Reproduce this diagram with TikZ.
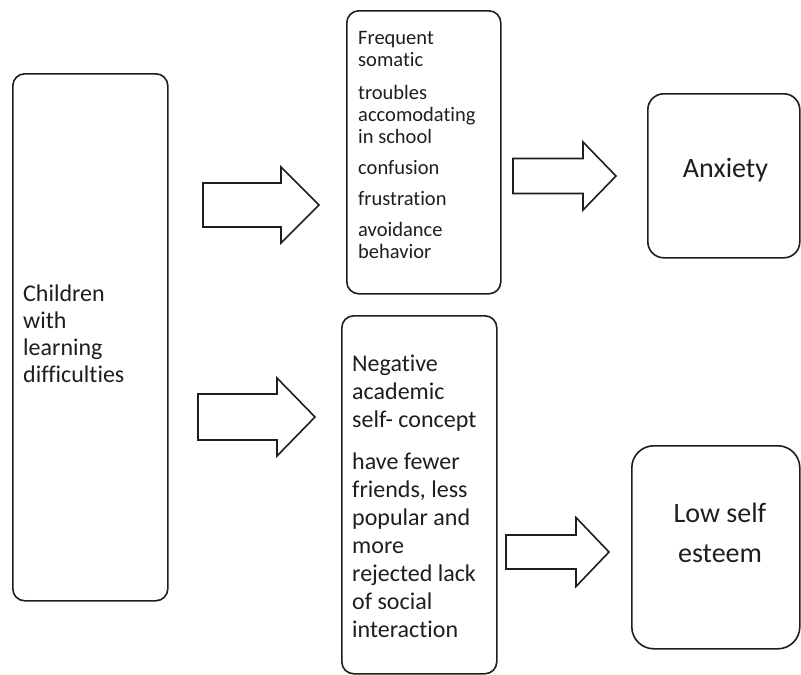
\documentclass[tikz,border=0pt]{standalone}
\usepackage{fontspec}
\setmainfont{Carlito}[Ligatures={NoCommon}]
\definecolor{ink}{HTML}{1E1E1E}
\begin{document}
\begin{tikzpicture}[x=1pt,y=-1pt,
  box/.style={draw=ink, line width=1.6pt, rounded corners=12pt, inner sep=0pt, anchor=north west},
  blk/.style={draw=ink, line width=1.6pt, fill=white, line join=miter},
  txt/.style={inner sep=0pt, align=left, anchor=north west, text=ink}]
\useasboundingbox (0,0) rectangle (801,675);
% boxes
\node[box, minimum width=155pt, minimum height=527pt] (kids) at (12,73) {};
\node[box, minimum width=154pt, minimum height=283pt] (mtop) at (346,10) {};
\node[box, minimum width=155pt, minimum height=358pt] (mbot) at (341,315) {};
\node[box, rounded corners=16pt, minimum width=152pt, minimum height=164pt] (anx) at (647,93) {};
\node[box, rounded corners=22pt, minimum width=168pt, minimum height=203pt] (low) at (631,445) {};
% texts
\node[txt, font=\fontsize{24}{27}\selectfont] (kidst) at (23,285)
  {Children\\with\\learning\\difficulties};
\node[txt, font=\fontsize{20.5}{22}\selectfont] (mtopt) at (358,31.5)
  {Frequent\\somatic\\[11pt]troubles\\accomodating\\in school\\[9pt]confusion\\[9pt]frustration\\[9pt]avoidance\\behavior};
\node[txt, font=\fontsize{24}{28}\selectfont] (mbott) at (352,354.5)
  {Negative\\academic\\self- concept\\[14pt]have fewer\\friends, less\\popular and\\more\\rejected lack\\of social\\interaction};
\node[inner sep=0pt, anchor=base, text=ink, font=\fontsize{28}{34}\selectfont] (anxt) at (725.5,177) {Anxiety};
\node[inner sep=0pt, anchor=north, align=center, text=ink, font=\fontsize{28}{40}\selectfont] (lowt) at (720,503) {Low self\\esteem};
% block arrows
\draw[blk] (203,183) -- (281,183) -- (281,167) -- (319,205) -- (281,243) -- (281,227) -- (203,227) -- cycle;
\draw[blk] (198,394) -- (277,394) -- (277,378) -- (315,417) -- (277,456) -- (277,440) -- (198,440) -- cycle;
\draw[blk] (513,158.5) -- (583,158.5) -- (583,142) -- (616,176) -- (583,210) -- (583,193.5) -- (513,193.5) -- cycle;
\draw[blk] (506,535) -- (576,535) -- (576,517.5) -- (609,552) -- (576,586.5) -- (576,569) -- (506,569) -- cycle;
\end{tikzpicture}
\end{document}
